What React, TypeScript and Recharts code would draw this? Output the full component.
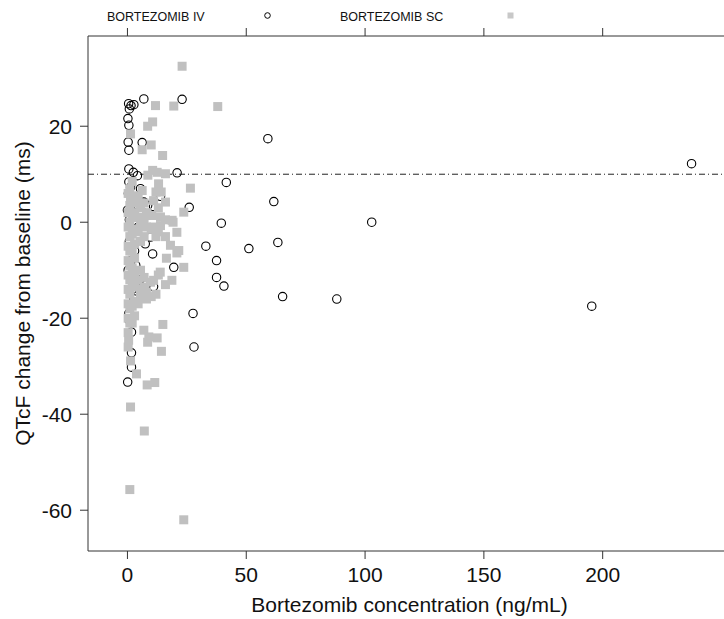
import React from "react";
import { ScatterChart, Scatter, XAxis, YAxis, ReferenceLine } from "recharts";

// Bortezomib IV (open circles): concentration (ng/mL) and QTcF change (ms)
const ivConc = [
  0.5, 1.5, 2.7, 0.8, 6.9, 23.0, 0.2, 0.6, 0.3, 0.6, 6.2, 59.1,
  0.6, 2.5, 4.2, 20.9, 0.6, 1.3, 5.5, 41.6, 237.4, 13.9, 6.9, 1.9,
  4.1, 0.0, 26.0, 61.6, 39.5, 102.8, 6.9, 9.7, 33.0, 51.1, 63.3, 10.6,
  37.5, 19.5, 37.5, 40.6, 65.3, 88.1, 195.4, 11.0, 4.1, 1.3, 27.6, 1.7,
  28.0, 1.7, 1.7, 0.1,
  0.8, 3.2, 2.5, 0.8, 3.0, 1.5, 0.3, 3.5, 1.8, 2.0, 2.8, 0.6, 0.9,
  8.5, 11.0, 4.5, 5.0, 8.0, 0.4, 7.5,
];
const ivQtc = [
  24.7, 24.3, 24.5, 23.6, 25.7, 25.6, 21.6, 20.2, 16.7, 15.0, 16.6, 17.4,
  11.1, 10.4, 9.7, 10.3, 8.4, 7.3, 7.0, 8.3, 12.2, 5.4, 4.2, 3.8,
  3.6, 2.5, 3.1, 4.3, -0.2, 0.0, -2.1, -3.1, -5.0, -5.5, -4.2, -6.6,
  -8.0, -9.4, -11.5, -13.3, -15.5, -16.0, -17.5, -13.4, -12.5, -17.3, -19.0, -22.9,
  -26.0, -27.2, -30.2, -33.3,
  0.5, 1.5, -2.0, -4.0, -6.0, -8.0, -10.0, -9.0, -11.0, -14.0, -16.0, -19.0, -20.5,
  3.5, 3.3, -1.0, -12.0, -13.0, 6.0, -4.5,
];

// Bortezomib SC (grey squares)
const scConc = [
  23.0, 11.8, 19.5, 38.0, 10.6, 8.5, 1.3, 10.0, 6.2, 14.8,
  12.5, 16.0, 8.6, 10.6, 13.1, 26.5, 6.2, 12.0, 14.2, 1.3, 3.4, 11.0, 16.0, 23.7,
  10.2, 13.9, 18.8, 19.2, 11.0, 13.9, 20.8, 18.1, 21.6, 16.4, 20.8, 23.7,
  13.8, 11.0, 18.7, 9.7, 14.9, 6.9, 9.0, 12.5, 0.5, 8.5, 14.3, 1.3,
  3.8, 8.3, 11.5, 1.3, 7.1, 1.0, 23.7,
  1.0, 1.0, 1.0, 1.0, 1.0, 1.0, 1.0, 1.0, 1.0, 1.0,
  3.0, 3.0, 3.0, 3.0, 3.0, 3.0, 3.0, 3.0, 3.0,
  5.5, 5.5, 5.5, 5.5, 5.5, 5.5,
  8.0, 8.0, 8.0, 8.0, 12.0, 12.0,
  0.3, 0.3, 0.3, 0.3, 0.3, 0.3, 0.3, 0.3, 0.3, 0.3, 0.3,
  2.0, 2.0, 2.0, 2.0, 2.0, 2.0, 2.0, 2.0, 2.0,
  4.5, 4.5, 4.5, 4.5, 4.5,
  7.0, 7.0, 7.0, 7.0, 7.0,
  10.0, 10.0, 13.0, 13.0, 13.0, 16.0, 16.0, 16.0,
];
const scQtc = [
  32.5, 24.3, 24.2, 24.1, 20.9, 20.0, 18.4, 16.1, 15.1, 13.9,
  10.4, 10.1, 9.8, 10.8, 8.0, 7.1, 6.6, 6.3, 6.3, 5.2, 4.2, 4.5, 4.2, 2.1,
  1.4, 1.1, 0.4, 0.0, -1.0, -0.7, -2.1, -4.8, -5.9, -7.5, -6.4, -9.4,
  -10.4, -12.1, -12.1, -12.5, -21.3, -22.5, -23.9, -24.1, -24.6, -25.0, -26.9, -28.9,
  -31.6, -33.9, -33.4, -38.5, -43.5, -55.7, -62.0,
  7.0, 3.5, 0.0, -3.0, -6.0, -9.0, -12.0, -15.0, -18.0, -21.0,
  5.5, 2.0, -1.5, -4.5, -7.5, -10.5, -13.5, -16.5, -19.5,
  3.0, -0.5, -4.0, -10.0, -14.0, -15.5,
  2.0, -1.0, -14.5, -16.0, -3.0, -15.0,
  6.0, 2.0, -1.0, -5.0, -8.0, -11.0, -14.0, -17.0, -20.0, -23.0, -26.0,
  8.5, 4.0, 1.0, -2.5, -6.0, -9.5, -12.5, -17.5, -21.0,
  5.0, 1.0, -2.0, -12.0, -17.0,
  4.0, 0.5, -3.0, -11.5, -13.5,
  -1.5, -15.5, 3.0, -2.0, -11.0, 0.5, -3.0, -13.0,
];

const xTicks = [0, 50, 100, 150, 200];
const yTicks = [-60, -40, -20, 0, 20];
const thresholdMs = 10;

const ivData = ivConc.map((x, i) => ({ x, y: ivQtc[i] }));
const scData = scConc.map((x, i) => ({ x, y: scQtc[i] }));

const FONT = "'Liberation Sans', Arial, sans-serif";

function OpenCircle(props: any) {
  const { cx, cy } = props;
  return <circle cx={cx} cy={cy} r={4.2} fill="none" stroke="#000" strokeWidth={1.1} />;
}

function GreySquare(props: any) {
  const { cx, cy } = props;
  return <rect x={cx - 4.5} y={cy - 4.5} width={9} height={9} fill="#c0c0c0" />;
}

function XTitle(props: any) {
  const vb = props.viewBox || { x: 88, y: 551, width: 643, height: 68 };
  return (
    <text x={vb.x + vb.width / 2} y={612} textAnchor="middle" fontSize={21} fill="#111">
      Bortezomib concentration (ng/mL)
    </text>
  );
}

function YTitle(props: any) {
  const vb = props.viewBox || { x: 0, y: 36, width: 88, height: 515 };
  const cy = vb.y + vb.height / 2;
  return (
    <text x={30} y={cy} transform={`rotate(-90 30 ${cy})`} textAnchor="middle" fontSize={21} fill="#111">
      QTcF change from baseline (ms)
    </text>
  );
}

export default function App() {
  return (
    <div
      style={{
        position: "absolute",
        left: 0,
        top: 0,
        width: 724,
        height: 619,
        overflow: "hidden",
        background: "#fff",
        fontFamily: FONT,
      }}
    >
      <svg width={724} height={34} style={{ position: "absolute", left: 0, top: 0 }}>
        <text x={107} y={21} fontSize={12.5} fill="#111">BORTEZOMIB IV</text>
        <circle cx={267.5} cy={15.5} r={2.8} fill="none" stroke="#000" />
        <text x={340} y={21} fontSize={12.5} fill="#111">BORTEZOMIB SC</text>
        <rect x={507.5} y={12.5} width={6} height={6} fill="#c8c8c8" />
      </svg>
      <ScatterChart width={760} height={619} margin={{ top: 28, right: 29, bottom: 0, left: 0 }}>
        <XAxis
          type="number"
          dataKey="x"
          domain={[-16.6, 254]}
          ticks={xTicks}
          allowDataOverflow
          height={68}
          tickSize={8}
          tickMargin={8}
          stroke="#333"
          tick={{ fill: "#111", fontSize: 21 }}
          label={XTitle}
        />
        <XAxis
          xAxisId="top"
          orientation="top"
          type="number"
          dataKey="x"
          domain={[-16.6, 254]}
          ticks={xTicks}
          allowDataOverflow
          height={8}
          tickSize={8}
          stroke="#333"
          tick={() => <g />}
        />
        <YAxis
          type="number"
          dataKey="y"
          domain={[-68.5, 38.8]}
          ticks={yTicks}
          allowDataOverflow
          width={88}
          tickSize={8}
          tickMargin={8}
          stroke="#333"
          tick={{ fill: "#111", fontSize: 21 }}
          label={YTitle}
        />
        <ReferenceLine y={thresholdMs} stroke="#222" strokeDasharray="6 3 1 3" />
        <Scatter data={ivData} shape={OpenCircle} isAnimationActive={false} />
        <Scatter data={ivData.slice(0, 1)} xAxisId="top" shape={() => <g />} isAnimationActive={false} />
        <Scatter data={scData} shape={GreySquare} isAnimationActive={false} />
      </ScatterChart>
    </div>
  );
}
